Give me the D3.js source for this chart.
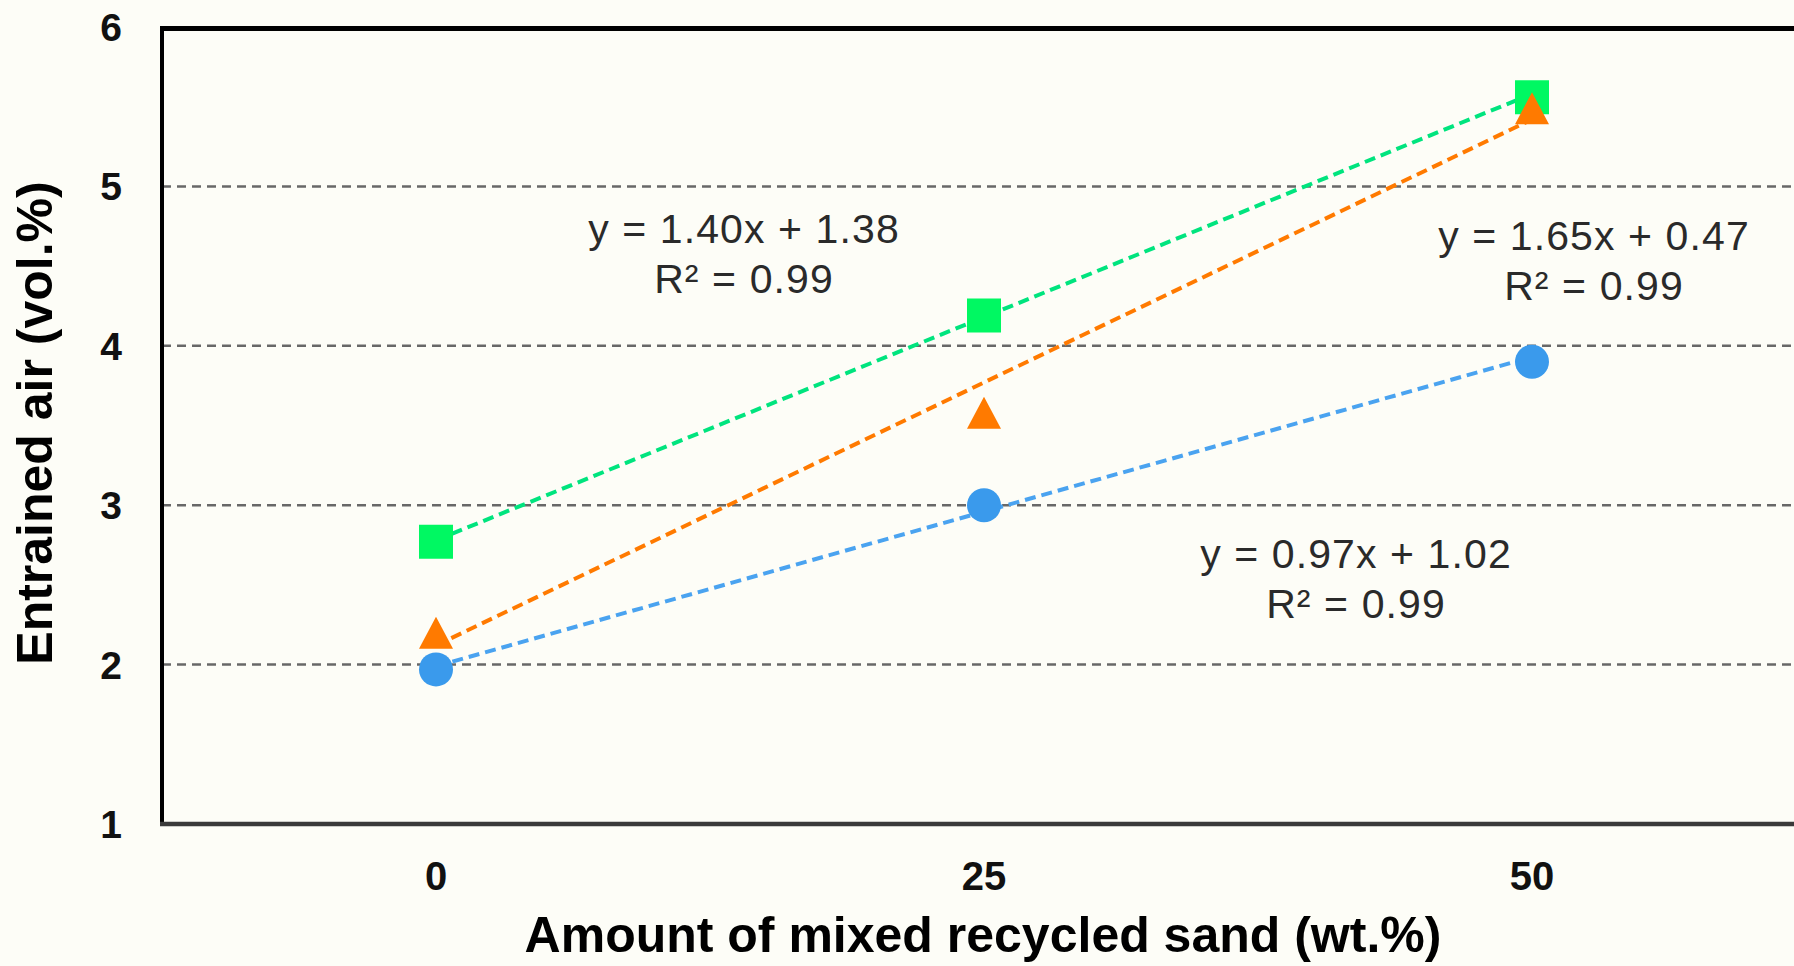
<!DOCTYPE html>
<html>
<head>
<meta charset="utf-8">
<script src="https://cdn.jsdelivr.net/npm/d3@7"></script>
<style>
  html, body { margin: 0; padding: 0; background: #FDFDF7; }
  svg { display: block; font-family: "Liberation Sans", Arial, sans-serif; }
</style>
</head>
<body>
<div id="area"></div>
<script>
// categories on the x axis (wt.% of mixed recycled sand)
var categories = ['0', '25', '50'];
var yTicks = [1, 2, 3, 4, 5, 6];

// measured entrained air (vol.%)
var squareValues = [2.77, 4.19, 5.56];
var triangleValues = [2.20, 3.58, 5.49];
var circleValues = [1.97, 3.00, 3.90];

// linear trendlines as printed on the chart (x = category index 1..3)
var trendSlopes = [1.40, 1.65, 0.97];
var trendIntercepts = [1.38, 0.47, 1.02];
var trendR2 = [0.99, 0.99, 0.99];

var width = 1794,
    height = 966;

var squareColor = '#00F862',
    squareLineColor = '#00E47E',
    triangleColor = '#FF7A00',
    circleColor = '#3A9AEC',
    circleLineColor = '#4AA3F0',
    gridColor = '#686868',
    labelColor = '#2A2A2A';

var svg = d3.select('#area').append('svg')
    .attr('width', width)
    .attr('height', height);

svg.append('rect')
    .attr('width', width)
    .attr('height', height)
    .attr('fill', '#FDFDF7');

var x = d3.scalePoint()
    .domain(categories)
    .range([162, 1806])
    .padding(0.5);

var y = d3.scaleLinear()
    .domain([1, 6])
    .range([824, 27]);

// horizontal dashed gridlines
svg.append('g')
  .selectAll('line')
  .data(yTicks.filter(function(d) { return d > 1 && d < 6; }))
  .enter().append('line')
    .attr('x1', 162)
    .attr('x2', width)
    .attr('y1', function(d) { return y(d); })
    .attr('y2', function(d) { return y(d); })
    .attr('stroke', gridColor)
    .attr('stroke-width', 2.5)
    .attr('stroke-dasharray', '9,6');

// frame: top and left black, bottom axis grey
svg.append('line')
    .attr('x1', 160).attr('x2', width)
    .attr('y1', y(6) + 1.5).attr('y2', y(6) + 1.5)
    .attr('stroke', '#000').attr('stroke-width', 5);
svg.append('line')
    .attr('x1', 162).attr('x2', 162)
    .attr('y1', y(6) - 1).attr('y2', y(1) + 2)
    .attr('stroke', '#000').attr('stroke-width', 4);
svg.append('line')
    .attr('x1', 160).attr('x2', width)
    .attr('y1', y(1)).attr('y2', y(1))
    .attr('stroke', '#3A3A3A').attr('stroke-width', 4.5);

// y tick labels
svg.append('g')
  .selectAll('text')
  .data(yTicks)
  .enter().append('text')
    .attr('x', 122)
    .attr('y', function(d) { return y(d); })
    .attr('dy', '0.36em')
    .attr('text-anchor', 'end')
    .attr('font-size', 39)
    .attr('font-weight', 'bold')
    .attr('fill', '#111')
    .text(function(d) { return d; });

// x tick labels
svg.append('g')
  .selectAll('text')
  .data(categories)
  .enter().append('text')
    .attr('x', function(d) { return x(d); })
    .attr('y', 890)
    .attr('text-anchor', 'middle')
    .attr('font-size', 40)
    .attr('font-weight', 'bold')
    .attr('fill', '#111')
    .text(function(d) { return d; });

// axis titles
svg.append('text')
    .attr('x', 983)
    .attr('y', 952)
    .attr('text-anchor', 'middle')
    .attr('font-size', 50)
    .attr('font-weight', 'bold')
    .attr('fill', '#000')
    .text('Amount of mixed recycled sand (wt.%)');

svg.append('text')
    .attr('transform', 'translate(52, 423) rotate(-90)')
    .attr('text-anchor', 'middle')
    .attr('font-size', 50)
    .attr('font-weight', 'bold')
    .attr('fill', '#000')
    .text('Entrained air (vol.%)');

// trendlines
var trendColors = [squareLineColor, triangleColor, circleLineColor];
var trendData = trendSlopes.map(function(s, i) {
  return categories.map(function(c, j) {
    return {cat: c, value: s * (j + 1) + trendIntercepts[i]};
  });
});

var line = d3.line()
    .x(function(d) { return x(d.cat); })
    .y(function(d) { return y(d.value); });

svg.append('g')
  .selectAll('path')
  .data(trendData)
  .enter().append('path')
    .attr('d', line)
    .attr('fill', 'none')
    .attr('stroke', function(d, i) { return trendColors[i]; })
    .attr('stroke-width', 4)
    .attr('stroke-dasharray', '11,6');

// markers
var circleSym = d3.symbol().type(d3.symbolCircle).size(Math.PI * 17 * 17);
var squareSym = d3.symbol().type(d3.symbolSquare).size(34 * 34);
var trianglePath = 'M0,-16L17,16L-17,16Z';

function drawMarkers(values, pathStr, color) {
  svg.append('g')
    .selectAll('path')
    .data(values)
    .enter().append('path')
      .attr('transform', function(d, i) {
        return 'translate(' + x(categories[i]) + ',' + y(d) + ')';
      })
      .attr('d', pathStr)
      .attr('fill', color);
}

drawMarkers(circleValues, circleSym(), circleColor);
drawMarkers(squareValues, squareSym(), squareColor);
drawMarkers(triangleValues, trianglePath, triangleColor);

// trendline equation labels
var eqPositions = [
  {x: 744, y: 243},
  {x: 1594, y: 250},
  {x: 1356, y: 568}
];

eqPositions.forEach(function(p, i) {
  var g = svg.append('g')
      .attr('font-size', 41)
      .attr('fill', labelColor)
      .attr('text-anchor', 'middle')
      .style('letter-spacing', '1.1px');
  g.append('text')
      .attr('x', p.x)
      .attr('y', p.y)
      .text('y = ' + trendSlopes[i].toFixed(2) + 'x + ' + trendIntercepts[i].toFixed(2));
  g.append('text')
      .attr('x', p.x)
      .attr('y', p.y + 50)
      .text('R\u00B2 = ' + trendR2[i].toFixed(2));
});
</script>
</body>
</html>
